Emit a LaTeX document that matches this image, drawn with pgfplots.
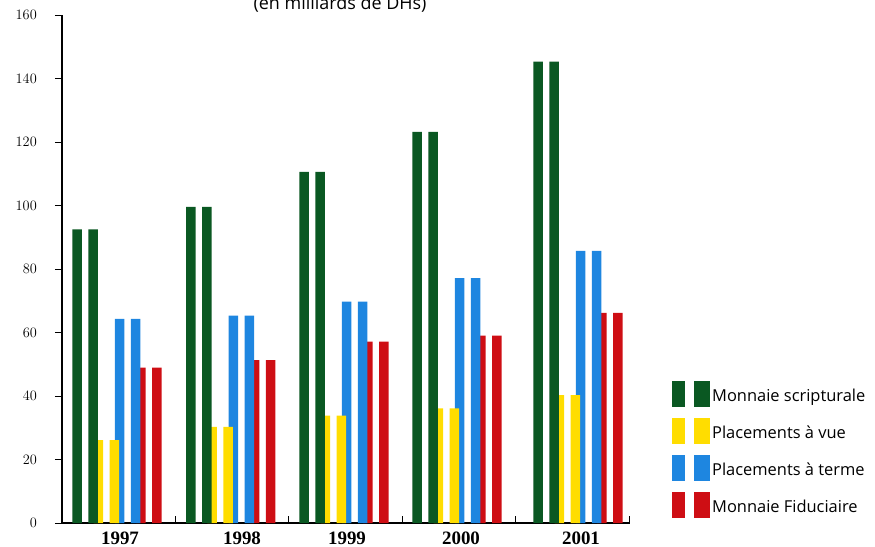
\documentclass[border=0pt]{standalone}
\usepackage{pgfplots}
\pgfplotsset{compat=1.18}
\usepackage{pgfplotstable}
\usepackage{fontspec}
\setmainfont{Liberation Serif}
\newfontfamily\legfont{Open Sans}
\definecolor{cGreen}{RGB}{10,88,34}
\definecolor{cYellow}{RGB}{255,221,0}
\definecolor{cBlue}{RGB}{30,134,224}
\definecolor{cRed}{RGB}{206,14,20}
\pgfplotstableread{
x      green yellow blue red
72.3   92.5  26.1   64.3 48.9
186.0  99.6  30.3   65.3 51.3
299.3  110.6 33.8   69.7 57.1
412.3  123.2 36.1   77.1 59.0
533.3  145.3 40.3   85.7 66.2
}\data
\begin{document}
\begin{tikzpicture}
\useasboundingbox (0bp,0bp) rectangle (875bp,-547bp);
\node[font=\legfont\fontsize{18}{20}\selectfont, anchor=base] at (340bp,-9bp) {(en milliards de DHs)};
\begin{axis}[
  at={(62bp,-523bp)}, anchor=south west,
  scale only axis, width=568bp, height=508bp,
  xmin=62, xmax=630, ymin=0, ymax=160,
  axis lines*=left,
  axis line style={line width=1.2bp, black},
  ytick={0,20,...,160},
  y tick label style={font=\fontsize{14}{16}\selectfont, xshift=-18bp, inner sep=0pt},
  ytick style={line width=1bp, black},
  tick align=outside,
  major tick length=7bp,
  xtick={120,242,347,461,581},
  xticklabels={1997,1998,1999,2000,2001},
  xtick style={draw=none},
  x tick label style={font=\bfseries\fontsize{19}{21}\selectfont, inner sep=0pt, anchor=north, yshift=-2bp},
  extra x ticks={175,288,402,515,629},
  extra x tick labels={},
  extra x tick style={tick align=inside, xtick style={draw=black, line width=1bp}},
  legend style={at={(1.0739,0.2795)}, anchor=north west, draw=none, fill=none,
    inner sep=0pt, row sep=11bp, font=\legfont\fontsize{16.5}{18}\selectfont,
    nodes={inner sep=2bp}},
  legend cell align=left,
  reverse legend,
  legend image code/.code={
    \path[#1,draw=none] (0bp,-11bp) rectangle (12.5bp,15bp);
    \path[#1,draw=none] (22bp,-11bp) rectangle (38bp,15bp);},
]
% drawn back to front: red, blue, yellow, green
\addplot[ybar, bar width=9.5bp, bar shift=0pt, fill=cRed, draw=none]
  table[x expr=\thisrow{x}+63.9+4.75, y=red] {\data};
\addlegendentry{Monnaie Fiduciaire}
\addplot[ybar, bar width=9.5bp, bar shift=0pt, fill=cRed, draw=none, forget plot]
  table[x expr=\thisrow{x}+63.9+20.75, y=red] {\data};
\addplot[ybar, bar width=9.5bp, bar shift=0pt, fill=cBlue, draw=none]
  table[x expr=\thisrow{x}+42.6+4.75, y=blue] {\data};
\addlegendentry{Placements à terme}
\addplot[ybar, bar width=9.5bp, bar shift=0pt, fill=cBlue, draw=none, forget plot]
  table[x expr=\thisrow{x}+42.6+20.75, y=blue] {\data};
\addplot[ybar, bar width=9.5bp, bar shift=0pt, fill=cYellow, draw=none]
  table[x expr=\thisrow{x}+21.3+4.75, y=yellow] {\data};
\addlegendentry{Placements à vue}
\addplot[ybar, bar width=9.5bp, bar shift=0pt, fill=cYellow, draw=none, forget plot]
  table[x expr=\thisrow{x}+21.3+20.75, y=yellow] {\data};
\addplot[ybar, bar width=9.5bp, bar shift=0pt, fill=cGreen, draw=none]
  table[x expr=\thisrow{x}+4.75, y=green] {\data};
\addlegendentry{Monnaie scripturale}
\addplot[ybar, bar width=9.5bp, bar shift=0pt, fill=cGreen, draw=none, forget plot]
  table[x expr=\thisrow{x}+20.75, y=green] {\data};
\end{axis}
\end{tikzpicture}
\end{document}
